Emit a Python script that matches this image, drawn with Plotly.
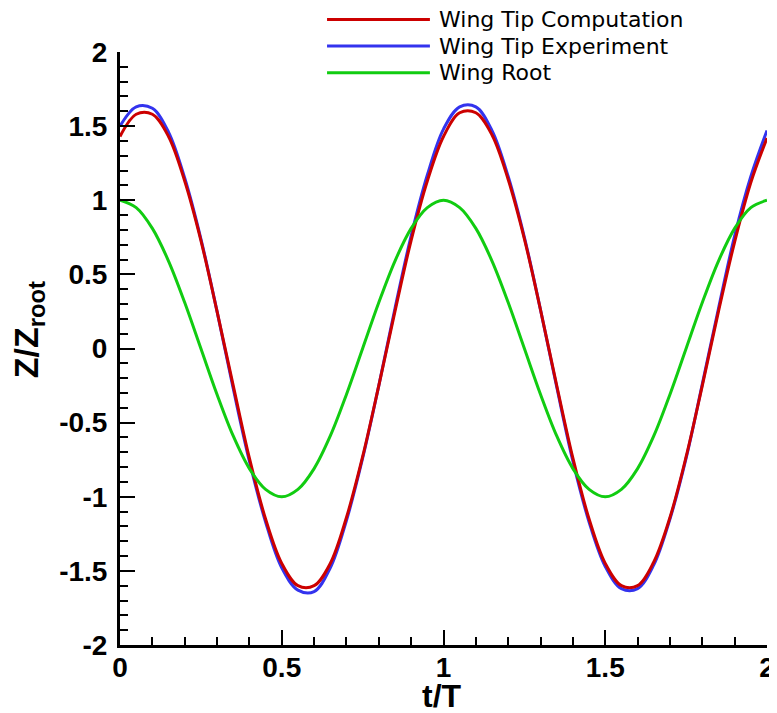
import plotly.graph_objects as go

t_over_T = [0.00, 0.05, 0.10, 0.15, 0.20, 0.25, 0.30, 0.35, 0.40, 0.45,
            0.50, 0.55, 0.60, 0.65, 0.70, 0.75, 0.80, 0.85, 0.90, 0.95,
            1.00, 1.05, 1.10, 1.15, 1.20, 1.25, 1.30, 1.35, 1.40, 1.45,
            1.50, 1.55, 1.60, 1.65, 1.70, 1.75, 1.80, 1.85, 1.90, 1.95, 2.00]

tip_computation = [1.43, 1.58, 1.58, 1.43, 1.13, 0.73, 0.25, -0.25, -0.74, -1.15,
                   -1.45, -1.60, -1.60, -1.45, -1.14, -0.73, -0.25, 0.25, 0.73, 1.13,
                   1.43, 1.59, 1.59, 1.44, 1.14, 0.74, 0.26, -0.25, -0.74, -1.15,
                   -1.45, -1.60, -1.60, -1.44, -1.14, -0.73, -0.25, 0.25, 0.72, 1.12, 1.42]

tip_experiment = [1.50, 1.63, 1.62, 1.46, 1.15, 0.74, 0.25, -0.27, -0.76, -1.17,
                  -1.48, -1.63, -1.64, -1.48, -1.16, -0.74, -0.25, 0.27, 0.76, 1.17,
                  1.48, 1.63, 1.63, 1.47, 1.16, 0.75, 0.26, -0.26, -0.76, -1.17,
                  -1.47, -1.62, -1.62, -1.46, -1.15, -0.74, -0.24, 0.27, 0.76, 1.16, 1.47]

wing_root = [1.00, 0.95, 0.81, 0.59, 0.31, 0.00, -0.31, -0.59, -0.81, -0.95,
             -1.00, -0.95, -0.81, -0.59, -0.31, 0.00, 0.31, 0.59, 0.81, 0.95,
             1.00, 0.95, 0.81, 0.59, 0.31, 0.00, -0.31, -0.59, -0.81, -0.95,
             -1.00, -0.95, -0.81, -0.59, -0.31, 0.00, 0.31, 0.59, 0.81, 0.95, 1.00]

series_names = ["Wing Tip Computation", "Wing Tip Experiment", "Wing Root"]
series_colors = ["#cc0000", "#3333ee", "#11cc11"]
series_values = [tip_computation, tip_experiment, wing_root]

x_ticks = [0, 0.5, 1, 1.5, 2]
x_ticktext = ["0", "0.5", "1", "1.5", "2"]
y_ticks = [-2, -1.5, -1, -0.5, 0, 0.5, 1, 1.5, 2]
y_ticktext = ["-2", "-1.5", "-1", "-0.5", "0", "0.5", "1", "1.5", "2"]

x_title = "t/T"
y_title = "Z/Z<sub>root</sub>"

fig = go.Figure()
for idx in [1, 0, 2]:
    fig.add_trace(go.Scatter(
        x=t_over_T, y=series_values[idx], mode="lines", name=series_names[idx],
        line=dict(color=series_colors[idx], width=3, shape="spline", smoothing=1.0),
        showlegend=False,
    ))

# Manual legend (long line samples like the original)
row_y = [1.055, 1.010, 0.965]
for name, color, yy in zip(series_names, series_colors, row_y):
    fig.add_shape(type="line", xref="paper", yref="paper",
                  x0=0.320, x1=0.479, y0=yy, y1=yy,
                  line=dict(color=color, width=3))
    fig.add_annotation(xref="paper", yref="paper", x=0.490, y=yy,
                       text=name, showarrow=False, xanchor="left", yanchor="middle",
                       font=dict(family="DejaVu Sans", size=22, color="black"))

fig.add_annotation(xref="paper", yref="paper", x=0.498, y=-0.086, text=x_title,
                   showarrow=False, xanchor="center", yanchor="middle",
                   font=dict(family="Liberation Sans", size=32, color="black", weight="bold"))
fig.add_annotation(xref="paper", yref="paper", x=-0.141, y=0.532, text=y_title,
                   showarrow=False, xanchor="center", yanchor="middle", textangle=-90,
                   font=dict(family="Liberation Sans", size=34, color="black", weight="bold"))

tick_font = dict(family="Liberation Sans", size=28, color="black", weight="bold")
axis_common = dict(
    showline=True, linewidth=3, linecolor="black", mirror=False,
    showgrid=False, zeroline=False,
    ticks="inside", ticklen=15, tickwidth=2, tickcolor="black",
    tickfont=tick_font,
)

fig.update_xaxes(
    range=[0, 2], tickmode="array", tickvals=x_ticks, ticktext=x_ticktext,
    minor=dict(dtick=0.1, ticks="inside", ticklen=8, tickwidth=1.5, tickcolor="black"),
    ticklabelstandoff=-5,
    **axis_common,
)
fig.update_yaxes(
    range=[-2, 2], tickmode="array", tickvals=y_ticks, ticktext=y_ticktext,
    minor=dict(dtick=0.1, ticks="inside", ticklen=8, tickwidth=1.5, tickcolor="black"),
    ticklabelstandoff=4,
    **axis_common,
)

fig.update_layout(
    width=769, height=705,
    margin=dict(l=112, r=10, t=44, b=68, autoexpand=False),
    plot_bgcolor="white", paper_bgcolor="white",
    showlegend=False,
)

fig.write_html("out.html")
